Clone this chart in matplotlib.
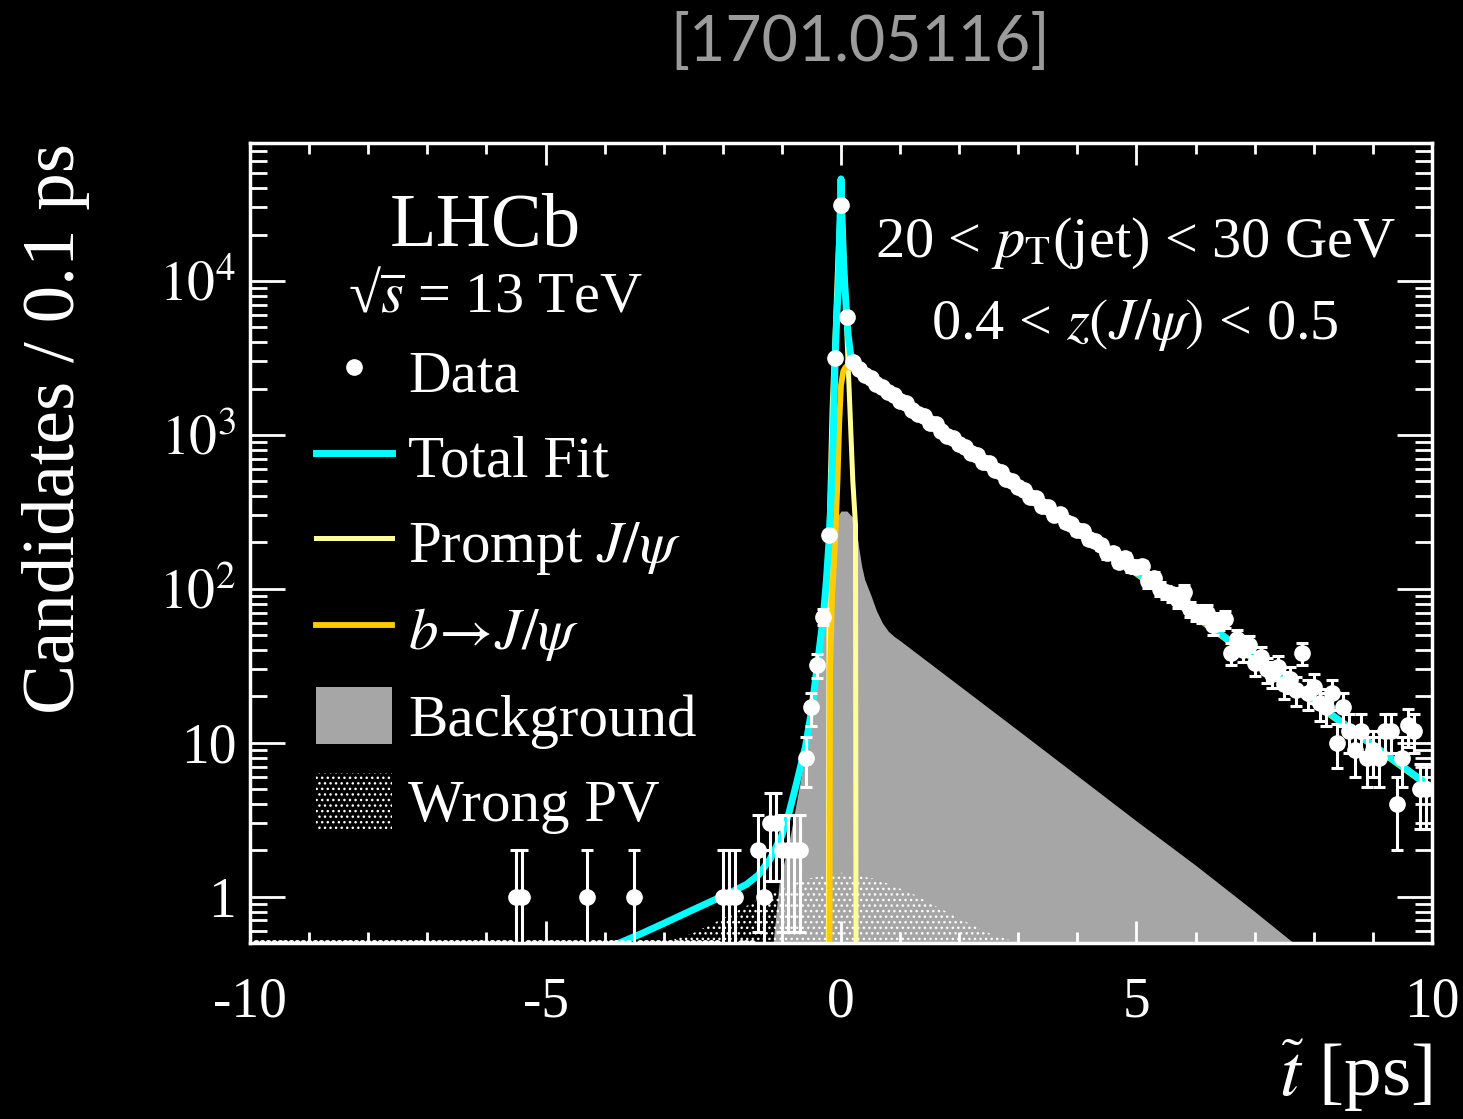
import matplotlib.pyplot as plt
import numpy as np
from matplotlib.lines import Line2D
from matplotlib.patches import Patch
from matplotlib.ticker import FixedLocator, FuncFormatter, LogLocator, NullFormatter

# --- data: candidates per 0.1 ps bin ---
t_core = [-5.5, -5.4, -4.3, -3.5, -2.0, -1.9, -1.8, -1.4, -1.3, -1.2, -1.1, -1.0,
          -0.9, -0.8, -0.7, -0.6, -0.5, -0.4, -0.3, -0.2, -0.1, 0.0, 0.1]
n_core = [1, 1, 1, 1, 1, 1, 1, 2, 1, 3, 3, 2,
          2, 2, 2, 8, 17, 32, 66, 224, 3170, 31200, 5860]

# tail bins 0.2 ... 9.9 ps
n_tail = [2990, 2680, 2460, 2340, 2150, 2060, 1890, 1810, 1650, 1600,
          1450, 1360, 1320, 1200, 1170, 1060, 990, 960, 870, 840,
          760, 740, 670, 655, 590, 570, 515, 500, 455, 440,
          395, 390, 345, 340, 300, 305, 270, 262, 240, 236,
          210, 203, 192, 170, 172, 150, 158, 140, 138, 140,
          112, 118, 100, 95, 92, 84, 96, 74, 70, 68,
          70, 58, 62, 64, 38, 47, 40, 43, 33, 36,
          30, 28, 31, 24, 26, 22, 38, 21, 23, 18,
          17, 21, 10, 17, 12, 9, 12, 8, 9, 8,
          12, 12, 4, 8, 13, 12, 5, 5]
t_tail = list(np.round(np.arange(2, 100) * 0.1, 1))

# --- fit components (curve knots) ---
total_t = [-3.75, -3.4, -3.0, -2.6, -2.2, -1.9, -1.6, -1.4, -1.2, -1.0, -0.88, -0.75,
           -0.6, -0.5, -0.4, -0.3, -0.25, -0.2, -0.16, -0.13, -0.1, -0.07, -0.04,
           -0.02, 0.0, 0.02, 0.04, 0.06, 0.09, 0.12, 0.16, 0.2, 0.3, 0.5, 1.0, 2.0,
           3.0, 4.0, 5.0, 6.0, 7.0, 8.0, 9.0, 10.0]
total_v = [0.5, 0.57, 0.67, 0.79, 0.93, 1.05, 1.2, 1.38, 1.75, 2.5, 3.5, 5.5,
           9.5, 16, 32, 66, 110, 210, 450, 1000, 3000, 6000, 10000,
           22000, 46000, 24000, 14000, 10000, 6500, 4500, 3400, 2950, 2680, 2330, 1690, 885,
           465, 244, 128, 67, 35, 18.5, 9.7, 5.1]

prompt_t = [-0.215, -0.2, -0.15, -0.1, -0.05, 0.0, 0.05, 0.1, 0.15, 0.2, 0.245, 0.255]
prompt_v = [0.3, 260, 1500, 4500, 15000, 43000, 15000, 4500, 1500, 500, 260, 0.3]

b_t = [-0.195, -0.185, -0.15, -0.1, -0.06, -0.03, 0.0, 0.04, 0.08, 0.14, 0.2,
       0.5, 1.0, 2.0, 3.0, 4.0, 5.0, 6.0, 7.0, 8.0, 9.0, 10.0]
b_v = [0.3, 30, 90, 200, 500, 1200, 2100, 2600, 2760, 2740, 2700,
       2250, 1635, 862, 452, 237, 125, 65.5, 34.3, 18.1, 9.5, 5.0]

bkg_t = [-1.15, -1.05, -0.85, -0.66, -0.5, -0.35, -0.2, -0.1, 0.0, 0.1, 0.2, 0.25,
         0.3, 0.35, 0.4, 0.5, 0.6, 0.7, 0.8, 0.9, 1.0, 2.0, 3.0, 4.0, 5.0, 6.0, 7.0, 7.66]
bkg_v = [0.5, 1.2, 2.6, 6.5, 13, 35, 150, 280, 320, 320, 290, 260,
         185, 140, 115, 92, 72, 60, 53, 49, 46, 23.5, 12, 6.1, 3.1, 1.6, 0.8, 0.5]

wpv_t = [-3.0, -2.5, -2.0, -1.7, -1.2, -0.6, 0.0, 0.6, 1.2, 1.7, 2.0, 2.5, 3.0]
wpv_v = [0.5, 0.58, 0.72, 0.83, 1.05, 1.3, 1.43, 1.3, 1.05, 0.83, 0.72, 0.58, 0.5]

CYAN = "#00ffff"
PALE = "#ffff99"
GOLD = "#ffcc00"
GRAY = "#a6a6a6"

plt.rcParams["font.family"] = ["Liberation Serif", "DejaVu Serif"]
plt.rcParams["mathtext.fontset"] = "stix"
plt.rcParams["hatch.linewidth"] = 1.0

fig = plt.figure(figsize=(14.63, 11.19), dpi=100, facecolor="black")
ax = fig.add_axes([0.1709, 0.1573, 0.8079, 0.7149])
ax.set_facecolor("black")
ax.set_yscale("log")
ax.set_xlim(-10, 10)
ax.set_ylim(0.5, 7.87e4)

floor = 1e-3
ax.fill_between(bkg_t, bkg_v, floor, color=GRAY, lw=0, zorder=1)
ax.fill_between(wpv_t, wpv_v, floor, facecolor="none", edgecolor="white",
                hatch="...", lw=0, zorder=2)
ax.plot(prompt_t, prompt_v, color=PALE, lw=3.6, zorder=3)
ax.plot(b_t, b_v, color=GOLD, lw=4.2, zorder=4)
ax.plot(total_t, total_v, color=CYAN, lw=5, zorder=5)

t_all = np.array(t_core + t_tail)
n_all = np.array(n_core + n_tail, dtype=float)
ax.errorbar(t_all, n_all, yerr=np.sqrt(n_all), fmt="o", color="white", ms=11,
            elinewidth=2.2, capsize=4.5, capthick=2.2, zorder=6)

# empty bins sit on the lower edge
grid = np.round(np.arange(-99, 100) * 0.1, 1)
empty = [t for t in grid if t not in set(np.round(t_all, 1))]
ax.plot(empty, np.full(len(empty), 0.5), "o", color="white", ms=4, zorder=6)

# --- axes styling ---
for side in ax.spines.values():
    side.set_color("white")
    side.set_linewidth(2.5)
    side.set_zorder(10)

ax.xaxis.set_major_locator(FixedLocator([-10, -5, 0, 5, 10]))
ax.xaxis.set_minor_locator(FixedLocator(np.arange(-10, 11, 1)))
ax.yaxis.set_major_locator(LogLocator(base=10))
ax.yaxis.set_minor_locator(LogLocator(base=10, subs=np.arange(2, 10)))
ax.yaxis.set_minor_formatter(NullFormatter())


def ylab(v, pos):
    if v < 5:
        return "1"
    if v < 50:
        return "10"
    return r"$10^{%d}$" % round(np.log10(v))


ax.yaxis.set_major_formatter(FuncFormatter(ylab))
ax.xaxis.set_major_formatter(FuncFormatter(lambda v, p: "%d" % v))
ax.tick_params(which="both", direction="in", top=True, right=True,
               colors="white", width=2, labelsize=40)
ax.tick_params(axis="x", which="major", length=16, pad=24)
ax.tick_params(axis="x", which="minor", length=8)
ax.tick_params(axis="y", which="major", length=25, pad=10)
ax.tick_params(axis="y", which="minor", length=12)

ax.set_xlabel(r"$\widetilde{t}$ [ps]", loc="right", fontsize=54, color="white", labelpad=6)
ax.set_ylabel("Candidates / 0.1 ps", loc="top", fontsize=54, color="white", labelpad=50)

# --- texts ---
ax.text(0.199, 0.894, "LHCb", transform=ax.transAxes, fontsize=55, color="white",
        ha="center", va="center")
ax.text(0.208, 0.806, "\u221a" + r"$\overline{s}$ = 13 TeV", transform=ax.transAxes,
        fontsize=42, color="white", ha="center", va="center")
ax.text(0.749, 0.875, r"20 < $p_{\mathrm{T}}$(jet) < 30 GeV", transform=ax.transAxes,
        fontsize=42, color="white", ha="center", va="center")
ax.text(0.749, 0.7725, r"0.4 < $z(J/\psi)$ < 0.5", transform=ax.transAxes,
        fontsize=42, color="white", ha="center", va="center")

fig.text(0.588, 0.962, "[1701.05116]", fontsize=45, color="#9b9b9b",
         family=["Lato", "DejaVu Sans"], weight="normal", ha="center", va="center")

handles = [
    Line2D([], [], marker="o", color="white", ls="none", ms=11),
    Line2D([], [], color=CYAN, lw=5),
    Line2D([], [], color=PALE, lw=3.6),
    Line2D([], [], color=GOLD, lw=4.2),
    Patch(facecolor=GRAY, edgecolor="none"),
    Patch(facecolor="none", edgecolor="white", hatch="...", lw=0),
]
labels = ["Data", "Total Fit", r"Prompt $J/\psi$", r"$b\!\rightarrow\! J/\psi$",
          "Background", "Wrong PV"]
ax.legend(handles, labels, loc="upper left", bbox_to_anchor=(0.0558, 0.75),
          frameon=False, fontsize=42.5, labelcolor="white", handlelength=1.29,
          handleheight=1.1, handletextpad=0.27, labelspacing=0.405, borderpad=0,
          borderaxespad=0)

fig.savefig("out.png", dpi=100, facecolor="black")
